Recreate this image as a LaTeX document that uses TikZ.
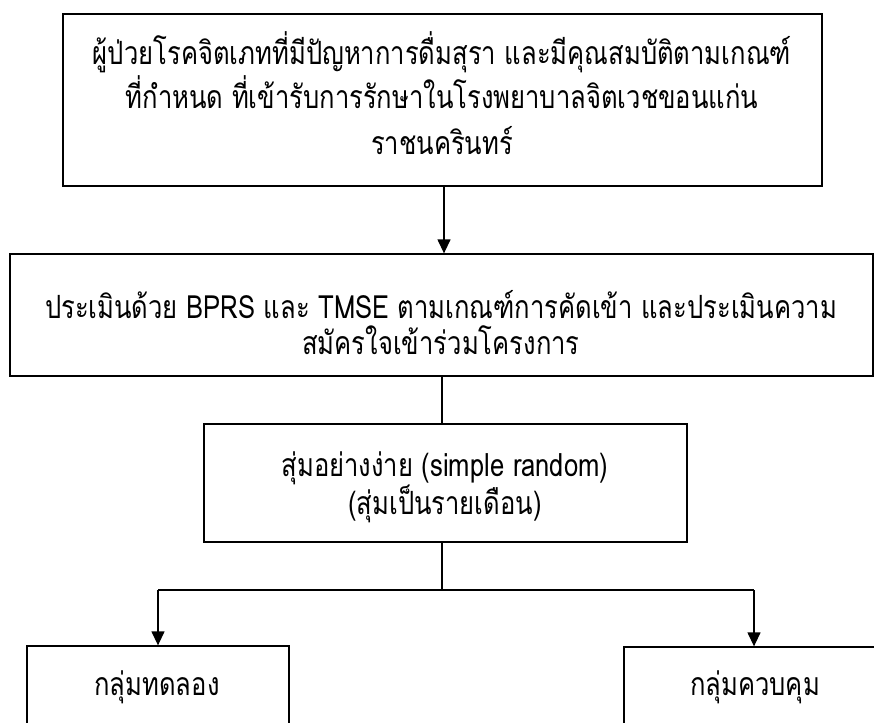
\documentclass[tikz,border=0pt]{standalone}
\usepackage{fontspec}
\setmainfont[Script=Thai,FakeStretch=0.8]{Loma}
\usetikzlibrary{arrows.meta}
\begin{document}
\begin{tikzpicture}[x=1pt,y=-1pt,
  box/.style={draw, line width=1.3pt, inner sep=0pt},
  ln/.style={inner sep=0pt, anchor=base, font=\fontsize{32}{38}\selectfont},
  conn/.style={line width=1.3pt},
  arr/.style={conn, -{Triangle[length=14pt,width=13pt]}}]
\useasboundingbox (0,0) rectangle (874,722);
% box 1
\node[box, minimum width=759pt, minimum height=172pt] (b1) at (442.5,100) {};
\node[ln] (t1a) at (442,65) {ผู้ป่วยโรคจิตเภทที่มีปัญหาการดื่มสุรา และมีคุณสมบัติตามเกณฑ์};
\node[ln] (t1b) at (442,109) {ที่กำหนด ที่เข้ารับการรักษาในโรงพยาบาลจิตเวชขอนแก่น};
\node[ln] (t1c) at (442,155) {ราชนครินทร์};
% box 2
\node[box, minimum width=863pt, minimum height=122pt] (b2) at (441.5,315) {};
\node[ln] (t2a) at (441,318) {ประเมินด้วย BPRS และ TMSE ตามเกณฑ์การคัดเข้า และประเมินความ};
\node[ln] (t2b) at (441,354) {สมัครใจเข้าร่วมโครงการ};
% box 3
\node[box, minimum width=483pt, minimum height=118pt] (b3) at (445.5,483) {};
\node[ln] (t3a) at (445,476) {สุ่มอย่างง่าย (simple random)};
\node[ln] (t3b) at (445,514) {(สุ่มเป็นรายเดือน)};
% boxes 4, 5
\node[box, minimum width=262pt, minimum height=82pt] (b4) at (158,687) {};
\node[ln] (t4) at (157,695) {กลุ่มทดลอง};
\node[box, minimum width=260pt, minimum height=82pt] (b5) at (754,688) {};
\node[ln] (t5) at (755,695) {กลุ่มควบคุม};
% connectors
\coordinate (j) at (442,590);
\draw[arr] (444,186) coordinate (a1) -- (a1 |- b2.north);
\draw[conn] (442,376) coordinate (a2) -- (a2 |- b3.north);
\draw[conn] (j |- b3.south) -- (j);
\draw[conn] (b4.north |- j) -- (b5.north |- j);
\draw[arr] (b4.north |- j) -- (b4.north);
\draw[arr] (b5.north |- j) -- (b5.north);
\end{tikzpicture}
\end{document}
